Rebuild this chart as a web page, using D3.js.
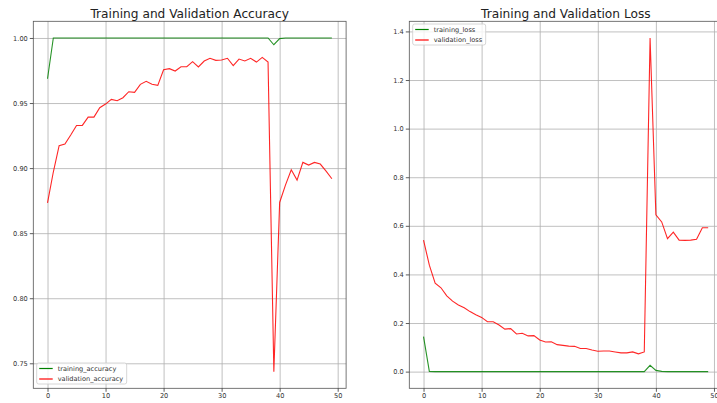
<!DOCTYPE html>
<html>
<head>
<meta charset="utf-8">
<script src="https://cdn.jsdelivr.net/npm/d3@7"></script>
<style>
  body { margin: 0; background: #fff; }
  svg { display: block; font-family: "DejaVu Sans", sans-serif; }
</style>
</head>
<body>
<div id="root"></div>
<script>
const width = 717;
const height = 403;

// epochs 0..49
const epochs = d3.range(50);

const trainingAccuracy = [
  0.9687, 1.0, 1.0, 1.0, 1.0, 1.0, 1.0, 1.0, 1.0, 1.0,
  1.0, 1.0, 1.0, 1.0, 1.0, 1.0, 1.0, 1.0, 1.0, 1.0,
  1.0, 1.0, 1.0, 1.0, 1.0, 1.0, 1.0, 1.0, 1.0, 1.0,
  1.0, 1.0, 1.0, 1.0, 1.0, 1.0, 1.0, 1.0, 1.0, 0.9948,
  0.9995, 1.0, 1.0, 1.0, 1.0, 1.0, 1.0, 1.0, 1.0, 1.0
];
const validationAccuracy = [
  0.8733, 0.8970, 0.9172, 0.9185, 0.9254, 0.9328, 0.9328, 0.9392, 0.9392, 0.9464,
  0.9492, 0.9528, 0.9518, 0.9541, 0.9587, 0.9582, 0.9644, 0.9667, 0.9644, 0.9636,
  0.9756, 0.9764, 0.9746, 0.9779, 0.9779, 0.9818, 0.9777, 0.9823, 0.9844, 0.9828,
  0.9831, 0.9844, 0.9787, 0.9838, 0.9823, 0.9844, 0.9815, 0.9851, 0.9815, 0.7436,
  0.8736, 0.8869, 0.8987, 0.8908, 0.9044, 0.9023, 0.9044, 0.9031, 0.8977, 0.8918
];
const trainingLoss = [
  0.144, 0.001, 0.0, 0.0, 0.0, 0.0, 0.0, 0.0, 0.0, 0.0,
  0.0, 0.0, 0.0, 0.0, 0.0, 0.0, 0.0, 0.0, 0.0, 0.0,
  0.0, 0.0, 0.0, 0.0, 0.0, 0.0, 0.0, 0.0, 0.0, 0.0,
  0.0, 0.0, 0.0, 0.0, 0.0, 0.0, 0.0, 0.0, 0.0, 0.026,
  0.005, 0.001, 0.0, 0.0, 0.0, 0.0, 0.0, 0.0, 0.0, 0.0
];
const validationLoss = [
  0.541, 0.438, 0.364, 0.345, 0.312, 0.290, 0.274, 0.263, 0.247, 0.234,
  0.223, 0.205, 0.205, 0.192, 0.175, 0.177, 0.155, 0.158, 0.147, 0.148,
  0.130, 0.122, 0.123, 0.111, 0.108, 0.105, 0.104, 0.095, 0.095, 0.089,
  0.084, 0.085, 0.085, 0.081, 0.077, 0.077, 0.081, 0.073, 0.081, 1.373,
  0.645, 0.616, 0.547, 0.574, 0.541, 0.540, 0.541, 0.545, 0.592, 0.592
];

const xTicks = [0, 10, 20, 30, 40, 50];
const accTicks = [0.75, 0.80, 0.85, 0.90, 0.95, 1.00];
const lossTicks = [0.0, 0.2, 0.4, 0.6, 0.8, 1.0, 1.2, 1.4];

const svg = d3.select('#root')
  .append('svg')
  .attr('width', width)
  .attr('height', height);

// matplotlib style 5% margins
function padded(lo, hi) {
  const m = (hi - lo) * 0.05;
  return [lo - m, hi + m];
}

function drawPanel(opts) {
  const { left, right, top, bottom, title, series, yTicks, yFmt, legendPos } = opts;
  const g = svg.append('g');

  const x = d3.scaleLinear().domain(padded(0, 49)).range([left, right]);
  const allY = series.flatMap(s => s.values);
  const y = d3.scaleLinear().domain(padded(d3.min(allY), d3.max(allY))).range([bottom, top]);

  const clipId = 'clip-' + title.replace(/\W/g, '');
  g.append('clipPath').attr('id', clipId)
    .append('rect')
    .attr('x', left).attr('y', top)
    .attr('width', right - left).attr('height', bottom - top);

  // grid
  g.append('g')
    .attr('transform', `translate(0,${bottom})`)
    .call(d3.axisBottom(x).tickValues(xTicks).tickSize(-(bottom - top)).tickFormat(''))
    .call(a => a.select('.domain').remove())
    .call(a => a.selectAll('line').attr('stroke', '#b0b0b0').attr('stroke-width', 0.8));
  g.append('g')
    .attr('transform', `translate(${left},0)`)
    .call(d3.axisLeft(y).tickValues(yTicks).tickSize(-(right - left)).tickFormat(''))
    .call(a => a.select('.domain').remove())
    .call(a => a.selectAll('line').attr('stroke', '#b0b0b0').attr('stroke-width', 0.8));

  // lines
  const line = vals => d3.line().x((d, i) => x(epochs[i])).y(d => y(d))(vals);
  series.forEach(s => {
    g.append('path')
      .attr('d', line(s.values))
      .attr('fill', 'none')
      .attr('stroke', s.color)
      .attr('stroke-opacity', 0.85)
      .attr('stroke-width', 1.1)
      .attr('clip-path', `url(#${clipId})`);
  });

  // frame
  g.append('rect')
    .attr('x', left).attr('y', top)
    .attr('width', right - left).attr('height', bottom - top)
    .attr('fill', 'none').attr('stroke', '#555').attr('stroke-width', 0.8);

  // axes
  g.append('g')
    .attr('transform', `translate(0,${bottom})`)
    .call(d3.axisBottom(x).tickValues(xTicks).tickSize(3.5).tickPadding(2))
    .call(a => a.select('.domain').remove())
    .call(a => a.selectAll('line').attr('stroke', '#333').attr('stroke-width', 0.8))
    .call(a => a.selectAll('text').attr('fill', '#333').attr('font-size', 6.6).attr('font-family', 'DejaVu Sans'));
  g.append('g')
    .attr('transform', `translate(${left},0)`)
    .call(d3.axisLeft(y).tickValues(yTicks).tickFormat(d3.format(yFmt)).tickSize(3.5).tickPadding(2))
    .call(a => a.select('.domain').remove())
    .call(a => a.selectAll('line').attr('stroke', '#333').attr('stroke-width', 0.8))
    .call(a => a.selectAll('text').attr('fill', '#333').attr('font-size', 6.6).attr('font-family', 'DejaVu Sans'));

  // title
  g.append('text')
    .attr('x', (left + right) / 2)
    .attr('y', 17.7)
    .attr('text-anchor', 'middle')
    .attr('font-size', 12.2)
    .attr('fill', '#222')
    .text(title);

  // legend
  const lg = g.append('g').attr('transform', `translate(${legendPos[0]},${legendPos[1]})`);
  lg.append('rect')
    .attr('width', legendPos[2]).attr('height', 21)
    .attr('rx', 2)
    .attr('fill', '#fff').attr('fill-opacity', 0.8)
    .attr('stroke', '#ccc').attr('stroke-width', 0.8);
  series.forEach((s, i) => {
    const yy = 5.5 + i * 10.5;
    lg.append('line')
      .attr('x1', 2.5).attr('x2', 16)
      .attr('y1', yy).attr('y2', yy)
      .attr('stroke', s.color).attr('stroke-width', 1.2);
    lg.append('text')
      .attr('x', 21).attr('y', yy + 2.4)
      .attr('font-size', 6.6).attr('fill', '#333')
      .text(s.name);
  });
}

drawPanel({
  left: 33.3, right: 346.1, top: 21.3, bottom: 388.3,
  title: 'Training and Validation Accuracy',
  series: [
    { name: 'training_accuracy', values: trainingAccuracy, color: '#008000' },
    { name: 'validation_accuracy', values: validationAccuracy, color: '#ff0000' }
  ],
  yTicks: accTicks, yFmt: '.2f',
  legendPos: [36.7, 363, 90]
});

drawPanel({
  left: 409.3, right: 722.4, top: 21.3, bottom: 388.3,
  title: 'Training and Validation Loss',
  series: [
    { name: 'training_loss', values: trainingLoss, color: '#008000' },
    { name: 'validation_loss', values: validationLoss, color: '#ff0000' }
  ],
  yTicks: lossTicks, yFmt: '.1f',
  legendPos: [412.7, 24, 73]
});
</script>
</body>
</html>
